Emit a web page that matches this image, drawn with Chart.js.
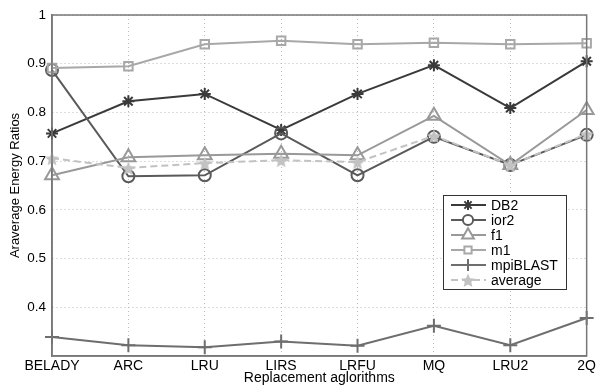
<!DOCTYPE html>
<html>
<head>
<meta charset="utf-8">
<script src="https://cdn.jsdelivr.net/npm/chart.js@4/dist/chart.umd.min.js"></script>
<style>
  body { margin: 0; background: #fff; }
  #wrap { width: 598px; height: 385px; }
</style>
</head>
<body>
<div id="wrap"><canvas id="myChart"></canvas></div>
<script>
var labels = ['BELADY', 'ARC', 'LRU', 'LIRS', 'LRFU', 'MQ', 'LRU2', '2Q'];

var db2      = [0.757, 0.823, 0.838, 0.764, 0.838, 0.897, 0.809, 0.905];
var ior2     = [0.887, 0.669, 0.671, 0.757, 0.671, 0.750, 0.692, 0.754];
var f1       = [0.671, 0.708, 0.712, 0.715, 0.712, 0.793, 0.692, 0.805];
var m1       = [0.891, 0.895, 0.940, 0.947, 0.940, 0.943, 0.940, 0.942];
var mpiblast = [0.339, 0.322, 0.318, 0.330, 0.321, 0.362, 0.322, 0.378];
var average  = [0.706, 0.686, 0.696, 0.702, 0.698, 0.752, 0.692, 0.756];

var FONT = 'Liberation Sans, Arial, sans-serif';

// filled 5 point star for the "average" series
function starImg(size, color) {
  var c = document.createElement('canvas');
  c.width = size; c.height = size;
  var g = c.getContext('2d');
  var cx = size / 2, cy = size / 2 + 1, R = size / 2 - 0.5, r = R * 0.45;
  g.beginPath();
  for (var i = 0; i < 10; i++) {
    var rad = i % 2 ? r : R;
    var a = -Math.PI / 2 + i * Math.PI / 5;
    g.lineTo(cx + rad * Math.cos(a), cy + rad * Math.sin(a));
  }
  g.closePath();
  g.fillStyle = color;
  g.fill();
  return c;
}
var star = starImg(16, '#c2c2c2');

function ds(label, data, color, style, extra) {
  var o = {
    label: label, data: data,
    borderColor: color, backgroundColor: 'rgba(0,0,0,0)',
    pointBorderColor: color, pointBackgroundColor: 'rgba(0,0,0,0)',
    borderWidth: 2, pointBorderWidth: 2,
    pointStyle: style, pointRadius: 6, pointHoverRadius: 6,
    tension: 0
  };
  for (var k in extra) o[k] = extra[k];
  return o;
}

var chartData = {
  labels: labels,
  datasets: [
    ds('average', average, '#c2c2c2', star, {borderDash: [7, 4]}),
    ds('mpiBLAST', mpiblast, '#6e6e6e', 'cross', {pointRadius: 7}),
    ds('m1', m1, '#a8a8a8', 'rect', {pointRadius: 6}),
    ds('f1', f1, '#999999', 'triangle', {pointRadius: 8}),
    ds('ior2', ior2, '#5a5a5a', 'circle', {pointRadius: 6}),
    ds('DB2', db2, '#3a3a3a', 'star', {pointRadius: 6})
  ]
};

var boxPlugin = {
  id: 'box',
  afterDraw: function(chart) {
    var a = chart.chartArea, g = chart.ctx;
    g.save();
    g.strokeStyle = '#777';
    g.lineWidth = 1.5;
    g.strokeRect(a.left, a.top, a.right - a.left, a.bottom - a.top);

    // legend box
    var x0 = 443, y0 = 195, w = 123, h = 94;
    g.fillStyle = '#fff';
    g.fillRect(x0, y0, w, h);
    g.strokeStyle = '#333';
    g.lineWidth = 1;
    g.strokeRect(x0 + 0.5, y0 + 0.5, w, h);
    var order = chart.data.datasets.slice().reverse();
    g.font = '14px ' + FONT;
    g.textBaseline = 'middle';
    order.forEach(function(d, i) {
      var y = y0 + 10 + i * 15;
      g.strokeStyle = d.borderColor;
      g.lineWidth = 2;
      g.setLineDash(d.borderDash || []);
      g.beginPath(); g.moveTo(x0 + 8, y); g.lineTo(x0 + 43, y); g.stroke();
      g.setLineDash([]);
      g.fillStyle = '#fff';
      Chart.helpers.drawPoint(g, {
        pointStyle: d.pointStyle, radius: d.pointRadius * 0.85, borderWidth: 2
      }, x0 + 25, y);
      g.fillStyle = '#000';
      g.fillText(d.label, x0 + 48, y + 1);
    });
    g.restore();
  }
};

var options = {
  responsive: true,
  maintainAspectRatio: false,
  animation: false,
  layout: { padding: { top: 15, right: 9, left: 0, bottom: 0 } },
  plugins: { legend: { display: false }, tooltip: { enabled: false } },
  scales: {
    x: {
      offset: false,
      afterFit: function(s) { s.height = 29; },
      grid: { color: '#bbb', drawTicks: false },
      border: { color: '#777', width: 1.5, dash: [1, 3] },
      ticks: { color: '#000', font: { family: FONT, size: 14 }, padding: 2, maxRotation: 0, autoSkip: false },
      title: { display: true, text: 'Replacement aglorithms', color: '#000',
               font: { family: FONT, size: 14, lineHeight: 1 }, padding: { top: 0, bottom: 0 } }
    },
    y: {
      min: 0.3, max: 1,
      afterFit: function(s) { s.width = 52; },
      grid: { color: '#bbb', drawTicks: false },
      border: { color: '#777', width: 1.5, dash: [1, 3] },
      ticks: {
        stepSize: 0.1, color: '#000', font: { family: FONT, size: 13.5 }, padding: 6,
        callback: function(v) {
          if (Math.abs(v - 0.3) < 1e-6) return '';
          if (Math.abs(v - 1) < 1e-6) return '1';
          return v.toFixed(1);
        }
      },
      title: { display: true, text: 'Araverage Energy Ratios', color: '#000',
               font: { family: FONT, size: 13, lineHeight: 1 }, padding: { top: 9, bottom: 0 } }
    }
  }
};

var ctx = document.getElementById('myChart').getContext('2d');

var myChart = new Chart(ctx, {
  type: 'line',
  data: chartData,
  options: options,
  plugins: [boxPlugin]
});
</script>
</body>
</html>
